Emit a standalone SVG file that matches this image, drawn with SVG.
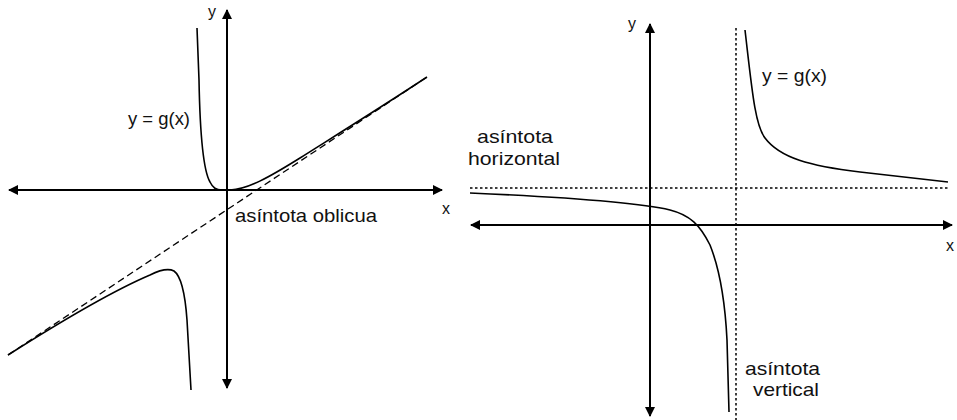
<svg xmlns="http://www.w3.org/2000/svg" width="957" height="420" viewBox="0 0 957 420">
<style>
.ax{stroke:#000;stroke-width:2;fill:none}
.cv{stroke:#000;stroke-width:1.6;fill:none}
.dash{stroke:#000;stroke-width:1.3;fill:none;stroke-dasharray:7 4}
.dot{stroke:#000;stroke-width:1.5;fill:none;stroke-dasharray:2.5 2.5}
.t{font-family:"Liberation Sans",Arial,sans-serif;font-size:18.5px;fill:#111}
.s{font-family:"Liberation Sans",Arial,sans-serif;font-size:16px;fill:#111}
</style>
<defs>
<marker id="ah" viewBox="0 0 10 10" refX="9" refY="5" markerWidth="5" markerHeight="5" orient="auto-start-reverse" markerUnits="strokeWidth">
<path d="M0,0 L10,5 L0,10 z" fill="#000"/>
</marker>
</defs>
<rect width="957" height="420" fill="#fff"/>
<g id="left-graph">
<g id="left-axes">
<line class="ax" x1="9" y1="190" x2="442" y2="190" marker-start="url(#ah)" marker-end="url(#ah)"/>
<line class="ax" x1="227" y1="10" x2="227" y2="388" marker-start="url(#ah)" marker-end="url(#ah)"/>
</g>
<line class="dash" x1="8" y1="355" x2="427" y2="77"/>
<path class="cv" d="M197,28 L199,80 C200,135 203,170 210,182 C213,188 216,190 222,190 L230,190 C248,189 268,178 300,158 C330,139 380,108 427,77"/>
<path class="cv" d="M8,355 C60,322 110,292 150,275 C160,270 168,268 174,271 C181,276 185,292 187,320 L191,390"/>
<text class="s" x="208" y="17">y</text>
<text class="s" x="442" y="214">x</text>
<text class="t" x="128" y="125" textLength="62" lengthAdjust="spacingAndGlyphs">y = g(x)</text>
<text class="t" x="235" y="222" textLength="142" lengthAdjust="spacingAndGlyphs">asíntota oblicua</text>
</g>
<g id="right-graph">
<g id="right-axes">
<line class="ax" x1="471" y1="225" x2="952" y2="225" marker-start="url(#ah)" marker-end="url(#ah)"/>
<line class="ax" x1="650" y1="24" x2="650" y2="416" marker-start="url(#ah)" marker-end="url(#ah)"/>
</g>
<line class="dot" x1="736" y1="28" x2="736" y2="420"/>
<line class="dot" x1="470" y1="188" x2="948" y2="188"/>
<path class="cv" d="M745,30 C752,90 755,125 765,138 C780,158 810,166 860,172 L948,182"/>
<path class="cv" d="M470,193 C560,197 640,203 670,210 C690,215 700,225 710,245 C720,270 725,300 727,340 L729,412"/>
<text class="s" x="628" y="29">y</text>
<text class="s" x="946" y="251">x</text>
<text class="t" x="762" y="82" textLength="65" lengthAdjust="spacingAndGlyphs">y = g(x)</text>
<text class="t" x="477" y="143" textLength="76" lengthAdjust="spacingAndGlyphs">asíntota</text>
<text class="t" x="468" y="165" textLength="92" lengthAdjust="spacingAndGlyphs">horizontal</text>
<text class="t" x="745" y="375" textLength="75" lengthAdjust="spacingAndGlyphs">asíntota</text>
<text class="t" x="753" y="396" textLength="66" lengthAdjust="spacingAndGlyphs">vertical</text>
</g>
</svg>
